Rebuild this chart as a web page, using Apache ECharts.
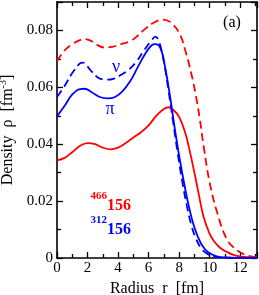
<!DOCTYPE html>
<html>
<head>
<meta charset="utf-8">
<script src="https://cdn.jsdelivr.net/npm/echarts@6/dist/echarts.min.js"></script>
<style>html,body{margin:0;padding:0;background:#fff;}#c{width:259px;height:295px;}</style>
</head>
<body>
<div id="c"></div>
<script>
// Radius r [fm] and density rho [fm^-3]
var redDashR = [0,0.5,1.0,1.5,1.8,2.2,2.6,3.1,3.6,4.2,4.8,5.3,5.7,6.3,6.9,7.4,8.0,8.4,8.8,9.1,9.35,9.6,10.0,10.5,11.1,11.6,12.0,12.5,13.1];
var redDashV = [0.0692,0.0730,0.0752,0.0766,0.0770,0.0764,0.0750,0.0740,0.0742,0.0752,0.0762,0.0782,0.0802,0.0826,0.0838,0.0830,0.0792,0.0730,0.0648,0.0570,0.0490,0.0395,0.0265,0.0158,0.0068,0.0035,0.0020,0.0008,0.0002];
var redSolidR = [0,0.5,1.0,1.5,2.0,2.5,3.0,3.5,4.0,4.5,5.0,5.5,6.0,6.5,7.0,7.3,7.6,8.0,8.4,8.7,9.0,9.3,9.6,10.0,10.3,10.7,11.1,11.6,12.2,13.1];
var redSolidV = [0.0343,0.0352,0.0372,0.0394,0.0404,0.0400,0.0388,0.0382,0.0388,0.0404,0.0424,0.0442,0.0466,0.0500,0.0524,0.0530,0.0522,0.0496,0.0440,0.0375,0.0300,0.0220,0.0145,0.0085,0.0058,0.0035,0.0022,0.0010,0.0004,0.0001];
var blueDashR = [0,0.5,1.0,1.5,1.7,2.2,2.7,3.2,3.7,4.2,4.7,5.2,5.7,6.2,6.45,6.7,7.0,7.3,7.6,7.9,8.2,8.5,8.8,9.1,9.5,10.0,10.5,11.0,13.1];
var blueDashV = [0.0566,0.0605,0.0650,0.0684,0.0687,0.0660,0.0634,0.0627,0.0630,0.0644,0.0662,0.0690,0.0730,0.0766,0.0778,0.0758,0.0690,0.0590,0.0480,0.0370,0.0270,0.0185,0.0115,0.0068,0.0030,0.0010,0.0003,0.0001,0];
var blueSolidR = [0,0.5,1.0,1.5,1.8,2.3,2.8,3.3,3.8,4.3,4.8,5.3,5.8,6.2,6.45,6.8,7.1,7.4,7.7,8.0,8.3,8.6,8.9,9.2,9.5,9.9,10.4,11.0,13.1];
var blueSolidV = [0.0498,0.0535,0.0575,0.0594,0.0595,0.0582,0.0566,0.0561,0.0566,0.0587,0.0622,0.0672,0.0720,0.0748,0.0752,0.0735,0.0665,0.0570,0.0460,0.0360,0.0270,0.0190,0.0125,0.0078,0.0045,0.0020,0.0007,0.0002,0];

function pairs(r, v) { return r.map(function (x, i) { return [x, v[i]]; }); }

var FONT = 'Liberation Serif';
var chart = echarts.init(document.getElementById('c'), null, {renderer: 'canvas'});

function xAx(pos, showLabel) {
  return {
    type: 'value', position: pos, min: 0, max: 13.1, interval: 2,
    axisLine: {show: true, onZero: false, lineStyle: {color: '#000', width: 1.6}},
    axisTick: {show: true, inside: true, length: 6, lineStyle: {color: '#000', width: 1.3}},
    minorTick: {show: true, splitNumber: 2, length: 4, lineStyle: {color: '#000', width: 1.3}},
    splitLine: {show: false},
    axisLabel: {show: showLabel, showMaxLabel: false, color: '#000', fontFamily: FONT, fontSize: 15, margin: 3},
    name: showLabel ? 'Radius  r  [fm]' : '', nameLocation: 'middle', nameGap: 22,
    nameTextStyle: {color: '#000', fontFamily: FONT, fontSize: 16}
  };
}
function yAx(pos, showLabel) {
  return {
    type: 'value', position: pos, min: 0, max: 0.09, interval: 0.02,
    axisLine: {show: true, onZero: false, lineStyle: {color: '#000', width: 1.6}},
    axisTick: {show: true, inside: true, length: 6, lineStyle: {color: '#000', width: 1.3}},
    minorTick: {show: true, splitNumber: 2, length: 4, lineStyle: {color: '#000', width: 1.3}},
    splitLine: {show: false},
    axisLabel: {show: showLabel, showMaxLabel: false, color: '#000', fontFamily: FONT, fontSize: 15, margin: 4,
      formatter: function (v) { return v === 0 ? '0' : v.toFixed(2); }},
    name: showLabel ? 'Density  ρ  [fm{sup|-3}]' : '', nameLocation: 'middle', nameGap: 38,
    nameTextStyle: {color: '#000', fontFamily: FONT, fontSize: 16,
      rich: {sup: {fontFamily: FONT, fontSize: 10, color: '#000', padding: [0, 0, 8, 0]}}}
  };
}

function line(r, v, color, dashed) {
  return {
    type: 'line', xAxisIndex: 0, yAxisIndex: 0, data: pairs(r, v), smooth: 0.4,
    showSymbol: false, symbol: 'none', silent: true,
    lineStyle: {color: color, width: 1.8, type: dashed ? [8, 4.5] : 'solid'}
  };
}

chart.setOption({
  animation: false,
  backgroundColor: '#fff',
  grid: {left: 57, right: 2, top: 2, bottom: 37, containLabel: false, outerBoundsMode: 'none'},
  xAxis: [xAx('bottom', true), xAx('top', false)],
  yAxis: [yAx('left', true), yAx('right', false)],
  series: [
    line(redDashR, redDashV, '#ff0000', true),
    line(redSolidR, redSolidV, '#ff0000', false),
    line(blueDashR, blueDashV, '#0000ff', true),
    line(blueSolidR, blueSolidV, '#0000ff', false)
  ],
  graphic: [
    {type: 'text', x: 232, y: 23, style: {text: '(a)', fill: '#000', font: '16px "Liberation Serif"', textAlign: 'center', textVerticalAlign: 'middle'}},
    {type: 'text', x: 116, y: 67, style: {text: 'ν', fill: '#0000ff', font: '18px "Liberation Serif"', textAlign: 'center', textVerticalAlign: 'middle'}},
    {type: 'text', x: 110, y: 109, style: {text: 'π', fill: '#0000ff', font: '18px "Liberation Serif"', textAlign: 'center', textVerticalAlign: 'middle'}},
    {type: 'text', x: 107, y: 196, style: {text: '466', fill: '#ff0000', font: 'bold 11px "Liberation Serif"', textAlign: 'right', textVerticalAlign: 'middle'}},
    {type: 'text', x: 107, y: 205.5, style: {text: '156', fill: '#ff0000', font: 'bold 16px "Liberation Serif"', textAlign: 'left', textVerticalAlign: 'middle'}},
    {type: 'text', x: 107, y: 220.5, style: {text: '312', fill: '#0000ff', font: 'bold 11px "Liberation Serif"', textAlign: 'right', textVerticalAlign: 'middle'}},
    {type: 'text', x: 107, y: 230, style: {text: '156', fill: '#0000ff', font: 'bold 16px "Liberation Serif"', textAlign: 'left', textVerticalAlign: 'middle'}}
  ]
});
</script>
</body>
</html>
